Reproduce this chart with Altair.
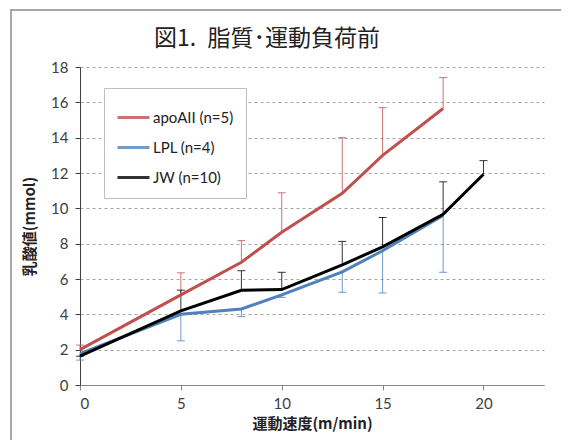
import altair as alt
import pandas as pd

speeds_apo = [0, 5, 8, 10, 13, 15, 18]
apo_vals = [2.0, 5.1, 6.95, 8.65, 10.85, 13.0, 15.65]
apo_err_hi = [2.26, 6.35, 8.17, 10.88, 14.0, 15.7, 17.4]

speeds_lpl = [0, 5, 8, 10, 13, 15, 18]
lpl_vals = [1.78, 4.0, 4.3, 5.1, 6.4, 7.6, 9.6]
lpl_err_lo = [1.41, 2.5, 3.87, 4.96, 5.25, 5.21, 6.38]

speeds_jw = [0, 5, 8, 10, 13, 15, 18, 20]
jw_vals = [1.63, 4.2, 5.36, 5.4, 6.8, 7.82, 9.66, 11.93]
jw_err_hi = [1.63, 5.37, 6.47, 6.38, 8.13, 9.48, 11.5, 12.7]

series_names = ["apoAII (n=5)", "LPL (n=4)", "JW (n=10)"]
series_colors = ["#C0504D", "#4F81BD", "#000000"]

rows = []
for s, v, e in zip(speeds_apo, apo_vals, apo_err_hi):
    rows.append({"series": series_names[0], "speed": s, "value": v, "err_lo": v, "err_hi": e, "cap": e})
for s, v, e in zip(speeds_lpl, lpl_vals, lpl_err_lo):
    rows.append({"series": series_names[1], "speed": s, "value": v, "err_lo": e, "err_hi": v, "cap": e})
for s, v, e in zip(speeds_jw, jw_vals, jw_err_hi):
    rows.append({"series": series_names[2], "speed": s, "value": v, "err_lo": v, "err_hi": e, "cap": e})
df = pd.DataFrame(rows)

JP = "Noto Sans CJK JP"
NUM = "Lato, Noto Sans CJK JP"

xscale = alt.Scale(domain=[0, 23], nice=False)
yscale = alt.Scale(domain=[0, 18], nice=False)
legend = alt.Legend(title=None, orient="none", legendX=24, legendY=21,
                    symbolType="stroke", symbolSize=1024, symbolStrokeWidth=3,
                    labelFont=NUM, labelFontSize=15, labelColor="#222222",
                    strokeColor="#bfbfbf", fillColor="white", padding=12,
                    rowPadding=4, labelOffset=2)
color = alt.Color("series:N",
                  scale=alt.Scale(domain=series_names, range=series_colors),
                  sort=series_names, legend=legend)

x_axis = alt.Axis(title="運動速度(m/min)", values=[0, 5, 10, 15, 20], grid=False,
                  labelFont=NUM, labelFontSize=15, labelColor="#404040",
                  titleFont=JP, titleFontSize=15, titleFontWeight="bold", titleColor="#222222",
                  domainColor="#888888", tickColor="#888888", tickSize=5, labelPadding=6,
                  titlePadding=5)
y_axis = alt.Axis(title="乳酸値(mmol)", values=list(range(0, 19, 2)), grid=True,
                  labelOverlap=False, labelBound=False, labelFlush=False,
                  gridDash=[3, 3], gridColor="#a6a6a6", gridWidth=1,
                  labelFont=NUM, labelFontSize=15, labelColor="#404040",
                  titleFont=JP, titleFontSize=15, titleFontWeight="bold", titleColor="#222222",
                  domainColor="#404040", tickColor="#404040", tickSize=5, labelPadding=7,
                  titlePadding=13)

X = alt.X("speed:Q", scale=xscale, axis=x_axis)

err = alt.Chart(df).mark_rule(strokeWidth=1, opacity=0.8).encode(
    x=X,
    y=alt.Y("err_lo:Q", scale=yscale, axis=y_axis),
    y2="err_hi:Q",
    color=color,
)
caps = alt.Chart(df).mark_tick(orient="horizontal", size=8, thickness=1, opacity=0.8).encode(
    x=X,
    y=alt.Y("cap:Q", scale=yscale, axis=y_axis),
    color=color,
)
lines = alt.Chart(df).mark_line(strokeWidth=3).encode(
    x=X,
    y=alt.Y("value:Q", scale=yscale, axis=y_axis),
    color=color,
    order="speed:Q",
)
frame = alt.Chart(df).mark_rect(fill=None, stroke="#8c8c8c", strokeWidth=1.5).encode(
    x=alt.value(-69), x2=alt.value(600), y=alt.value(-57), y2=alt.value(500)
).transform_filter("datum.speed == 0 && datum.series == 'JW (n=10)'")

chart = alt.layer(frame, err, caps, lines).properties(
    width=464, height=318,
    title=alt.TitleParams("図1.\u2002脂質･運動負荷前", font=JP, fontSize=23, fontWeight="normal",
                          color="#222222", anchor="middle", dx=-45, offset=-42),
    autosize=alt.AutoSizeParams(type="none"),
    padding={"left": 72, "top": 59, "right": 17, "bottom": 55},
    background="white",
).configure_view(stroke=None)

chart.save("out.html", embed_options={"renderer": "svg", "actions": False})
